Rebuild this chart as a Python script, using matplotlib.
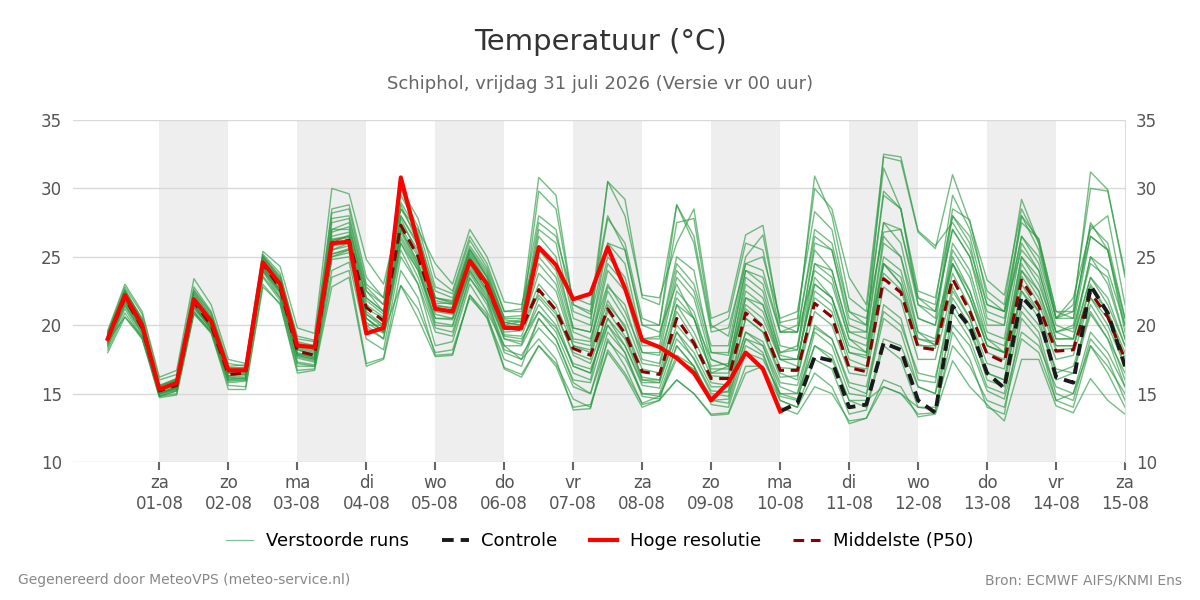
import numpy as np
import pandas as pd
import matplotlib
matplotlib.use("Agg")
import matplotlib.pyplot as plt
import matplotlib.dates as mdates
from matplotlib.lines import Line2D

# 6-hourly steps starting 31-07 06:00
times = pd.date_range("2026-07-31 06:00", periods=60, freq="6h")

p50 = [19.0, 22.0, 19.8, 15.2, 15.6, 21.7, 20.0, 16.4, 16.5, 24.5, 22.7, 18.1, 17.8,
       26.0, 26.2, 21.3, 20.3, 27.3, 25.0, 21.2, 21.0, 24.7, 22.8, 19.8, 19.7,
       22.6, 21.1, 18.3, 17.8, 21.2, 19.4, 16.6, 16.4, 20.5, 18.7, 16.1, 16.1,
       20.9, 19.9, 16.7, 16.7, 21.6, 20.6, 16.9, 16.6, 23.4, 22.4, 18.4, 18.2,
       23.4, 21.0, 17.9, 17.3, 23.3, 21.4, 18.1, 18.2, 22.4, 20.6, 17.5]

# hoge resolutie: first 40 steps
hres = [19.0, 22.2, 20.0, 15.3, 15.8, 21.9, 20.3, 16.7, 16.7, 24.6, 23.0, 18.5, 18.4,
        26.0, 26.1, 19.4, 19.8, 30.8, 26.0, 21.2, 21.0, 24.7, 23.0, 19.8, 19.8,
        25.7, 24.4, 21.9, 22.3, 25.7, 22.7, 18.9, 18.4, 17.6, 16.5, 14.5, 15.8,
        18.0, 16.8, 13.7]

# controle: from step 39 on
ctrl = [13.7, 14.3, 17.7, 17.4, 14.0, 14.2, 18.7, 18.2, 14.5, 13.6,
        21.4, 19.9, 16.5, 15.4, 22.1, 20.7, 16.2, 15.8, 22.9, 20.9, 17.0]

runs = [
    [19.3, 22.6, 20.4, 15.6, 16.0, 22.3, 20.6, 16.8, 16.9, 25.0, 23.4, 18.6, 18.2,
     27.5, 27.8, 22.5, 21.0, 29.0, 26.8, 22.0, 21.6, 25.6, 23.8, 20.4, 20.2,
     29.8, 28.5, 21.5, 20.8, 27.8, 26.0, 20.5, 20.0, 27.5, 27.8, 20.0, 19.2,
     25.0, 26.6, 20.2, 20.5, 30.0, 28.5, 23.5, 21.5, 32.3, 32.0, 26.8, 25.6,
     31.0, 27.5, 23.3, 22.2, 28.5, 26.0, 20.5, 21.5, 30.0, 29.8, 23.8],
    [18.5, 21.4, 19.3, 14.8, 15.2, 21.0, 19.6, 15.8, 15.9, 23.6, 22.0, 17.2, 17.0,
     24.0, 24.6, 19.0, 18.2, 25.0, 23.0, 19.5, 19.2, 23.4, 21.8, 18.2, 17.8,
     19.8, 18.5, 15.5, 15.0, 18.8, 17.6, 15.0, 14.8, 17.8, 17.0, 14.2, 14.0,
     18.0, 17.5, 15.0, 14.6, 18.5, 17.8, 14.5, 14.0, 19.0, 18.5, 15.5, 15.0,
     20.0, 18.5, 15.2, 14.6, 19.5, 18.5, 15.5, 15.0, 19.5, 18.0, 15.5],
    [18.8, 20.6, 19.2, 15.0, 15.4, 21.4, 19.8, 16.0, 16.2, 24.0, 22.4, 17.8, 17.5,
     25.0, 25.5, 20.5, 19.5, 22.9, 21.2, 18.0, 18.2, 22.0, 20.6, 17.5, 17.0,
     20.5, 19.0, 16.0, 15.8, 20.0, 18.0, 14.8, 14.6, 16.0, 15.0, 13.4, 13.5,
     16.5, 17.0, 14.0, 13.5, 15.5, 15.0, 13.0, 13.2, 16.0, 15.5, 13.3, 13.5,
     17.4, 15.5, 14.2, 13.0, 17.5, 17.5, 14.1, 13.6, 16.1, 14.5, 13.5],
    [19.5, 22.8, 20.8, 16.0, 16.4, 22.8, 21.0, 17.2, 17.0, 25.2, 23.8, 19.0, 18.8,
     28.5, 28.8, 23.5, 22.0, 30.0, 27.8, 23.5, 22.5, 26.5, 24.5, 21.0, 21.0,
     30.8, 29.5, 21.5, 21.0, 30.5, 29.2, 22.0, 21.5, 28.8, 26.0, 19.5, 19.8,
     24.5, 25.0, 20.5, 21.0, 28.3, 27.0, 21.0, 20.5, 26.8, 27.0, 22.0, 21.0,
     27.0, 25.0, 21.0, 20.5, 26.5, 24.5, 20.0, 19.5, 25.0, 24.0, 20.0],
    [19.1, 22.1, 19.9, 15.1, 15.5, 21.8, 20.1, 16.5, 16.4, 24.6, 22.9, 18.2, 17.9,
     26.5, 26.8, 21.5, 20.6, 27.8, 25.2, 21.4, 21.3, 25.0, 23.0, 20.0, 19.8,
     23.0, 21.5, 18.5, 18.0, 21.8, 19.8, 16.8, 16.5, 21.0, 19.0, 16.3, 16.2,
     21.2, 20.0, 16.9, 16.8, 22.0, 21.0, 17.0, 16.8, 23.8, 22.6, 18.6, 18.3,
     23.8, 21.3, 18.0, 17.5, 23.6, 21.6, 18.2, 18.3, 22.8, 20.9, 17.6],
    [18.7, 21.6, 19.5, 14.9, 15.3, 21.2, 19.8, 16.1, 16.1, 24.0, 22.2, 17.6, 17.3,
     25.2, 25.6, 20.2, 19.4, 26.0, 24.0, 20.5, 20.4, 24.0, 22.2, 19.2, 19.0,
     21.0, 19.8, 17.2, 16.8, 20.0, 18.5, 15.6, 15.4, 19.0, 17.6, 15.2, 15.1,
     19.5, 18.8, 15.8, 15.6, 19.8, 19.0, 15.8, 15.5, 21.0, 20.0, 16.5, 16.2,
     21.5, 19.5, 16.5, 16.0, 21.5, 20.0, 16.8, 16.5, 20.8, 19.0, 16.5],
    [19.4, 22.5, 20.5, 15.5, 16.0, 22.5, 20.8, 16.9, 16.8, 25.0, 23.5, 18.8, 18.5,
     27.8, 28.0, 22.8, 21.5, 28.5, 26.5, 22.5, 22.0, 25.8, 24.0, 20.5, 20.5,
     26.5, 25.0, 19.8, 19.5, 26.0, 24.5, 19.0, 19.2, 25.0, 24.0, 18.0, 18.0,
     24.0, 23.0, 18.5, 18.2, 26.0, 25.5, 20.0, 19.5, 27.5, 26.0, 20.5, 20.0,
     28.0, 26.0, 20.5, 20.0, 28.0, 26.3, 21.0, 20.5, 27.5, 25.5, 20.5],
    [18.2, 20.9, 19.0, 14.7, 14.9, 20.8, 19.5, 15.3, 15.3, 22.8, 21.6, 16.7, 16.8,
     23.5, 24.0, 17.2, 17.6, 24.0, 22.0, 17.8, 17.9, 22.2, 20.8, 16.9, 16.4,
     18.5, 17.2, 14.6, 14.0, 18.2, 16.5, 14.3, 14.8, 17.5, 16.8, 14.8, 15.2,
     20.5, 19.5, 16.5, 16.0, 22.5, 21.5, 17.5, 17.0, 24.5, 23.0, 18.5, 18.5,
     24.5, 22.0, 18.5, 18.0, 24.0, 22.0, 18.5, 18.5, 22.0, 20.5, 17.0],
    [19.0, 21.8, 19.7, 15.3, 15.8, 21.5, 19.9, 16.6, 16.7, 24.2, 22.6, 18.0, 17.6,
     26.2, 26.5, 21.0, 20.0, 27.0, 24.6, 21.0, 20.8, 24.5, 22.5, 19.5, 19.6,
     24.5, 23.0, 18.8, 18.5, 24.0, 22.5, 18.0, 18.0, 23.5, 22.0, 17.5, 17.0,
     23.5, 22.5, 18.0, 18.5, 25.5, 24.0, 19.5, 19.5, 32.5, 32.3, 26.9, 25.8,
     27.5, 25.5, 21.5, 21.0, 25.5, 24.0, 19.5, 19.8, 24.5, 23.5, 19.0],
    [19.2, 22.3, 20.2, 15.4, 15.7, 22.0, 20.2, 16.6, 16.6, 24.8, 23.0, 18.3, 18.0,
     26.8, 27.2, 21.8, 20.8, 28.0, 25.8, 21.8, 21.5, 25.3, 23.5, 20.2, 20.0,
     27.0, 26.0, 20.5, 20.0, 30.5, 28.0, 22.2, 22.0, 26.0, 28.5, 20.5, 21.0,
     26.6, 27.3, 20.0, 19.5, 24.0, 23.0, 19.0, 18.5, 24.5, 23.5, 19.0, 18.8,
     25.0, 22.5, 19.0, 18.5, 25.0, 23.0, 19.5, 19.0, 23.5, 21.5, 18.5],
    [18.9, 22.0, 19.6, 15.0, 15.5, 21.6, 19.9, 16.3, 16.4, 24.3, 22.5, 17.9, 17.6,
     25.8, 26.0, 20.8, 20.0, 27.0, 24.5, 20.8, 20.5, 24.2, 22.4, 19.0, 18.8,
     21.5, 20.0, 17.0, 16.5, 20.5, 18.5, 15.8, 15.8, 19.5, 17.5, 15.0, 14.8,
     19.0, 18.0, 14.5, 14.0, 17.5, 16.8, 13.5, 13.8, 18.5, 17.5, 14.0, 13.8,
     21.0, 19.0, 15.5, 15.0, 21.0, 19.5, 15.0, 14.5, 19.0, 17.5, 14.5],
    [19.6, 23.0, 21.0, 16.2, 16.7, 23.4, 21.5, 17.5, 17.2, 25.4, 24.3, 19.8, 19.4,
     30.0, 29.6, 24.8, 23.0, 28.5, 27.0, 24.5, 23.0, 27.0, 25.0, 21.7, 21.5,
     25.5, 24.0, 19.5, 19.0, 23.0, 21.0, 18.0, 17.8, 22.0, 20.5, 17.5, 17.0,
     22.0, 21.0, 17.5, 17.5, 23.0, 22.0, 18.0, 17.8, 25.0, 24.0, 19.5, 19.0,
     26.0, 24.0, 19.5, 19.0, 26.0, 24.0, 19.5, 20.0, 26.5, 25.5, 19.5],
    [19.0, 22.4, 20.1, 15.2, 15.6, 21.9, 20.4, 16.6, 16.8, 24.7, 23.1, 18.6, 18.3,
     26.3, 26.5, 20.0, 20.0, 30.0, 26.5, 21.5, 21.2, 25.0, 23.2, 20.0, 20.3,
     27.5, 26.5, 22.0, 21.5, 28.0, 25.5, 20.0, 19.5, 23.0, 20.5, 16.5, 17.0,
     21.5, 20.5, 17.5, 17.5, 23.5, 22.0, 18.5, 18.0, 26.0, 25.0, 20.5, 20.0,
     24.5, 22.0, 18.5, 18.0, 24.5, 22.5, 19.0, 19.0, 23.5, 22.0, 18.5],
    [18.4, 21.2, 19.1, 14.8, 15.0, 20.9, 19.4, 15.6, 15.5, 23.0, 21.5, 16.5, 16.7,
     22.8, 23.5, 17.0, 17.5, 22.9, 20.5, 17.7, 17.8, 22.2, 20.5, 16.8, 16.2,
     18.5, 17.0, 14.0, 14.2, 18.0, 16.3, 14.0, 14.5, 16.0, 15.0, 13.5, 13.6,
     17.0, 17.0, 14.5, 14.0, 16.5, 15.5, 12.8, 13.2, 15.5, 15.0, 13.5, 13.6,
     19.5, 17.5, 14.0, 13.5, 20.5, 19.0, 14.5, 14.0, 18.5, 16.5, 14.0],
    [19.2, 22.2, 20.0, 15.4, 15.9, 22.0, 20.3, 16.7, 16.6, 24.7, 22.9, 18.4, 18.1,
     27.0, 27.5, 22.0, 21.0, 28.8, 26.0, 22.0, 21.8, 25.5, 23.5, 20.2, 20.4,
     25.0, 23.5, 19.0, 18.8, 24.5, 23.0, 18.5, 18.5, 24.0, 22.5, 18.0, 17.8,
     24.0, 23.5, 19.5, 20.0, 30.9, 28.0, 22.0, 21.0, 31.5, 28.5, 21.5, 20.5,
     28.5, 27.7, 22.0, 21.0, 27.5, 26.3, 21.0, 21.0, 31.2, 29.9, 23.5],
    [19.3, 22.3, 20.1, 15.4, 15.8, 22.2, 20.4, 16.7, 16.7, 24.9, 23.2, 18.5, 18.2,
     26.0, 26.6, 22.0, 21.0, 27.5, 25.5, 21.6, 21.6, 25.2, 23.2, 20.2, 20.0,
     22.2, 20.8, 18.0, 17.5, 22.5, 20.5, 17.2, 17.0, 21.5, 19.5, 16.8, 16.8,
     22.5, 21.5, 17.8, 17.5, 23.0, 22.0, 18.0, 17.6, 24.5, 23.0, 19.0, 18.6,
     24.5, 22.5, 18.5, 18.0, 24.0, 22.5, 18.5, 18.5, 23.0, 21.0, 18.0],
    [18.6, 21.5, 19.4, 14.8, 15.2, 21.3, 19.7, 15.9, 16.0, 23.9, 22.0, 17.3, 17.1,
     24.8, 25.0, 19.8, 19.0, 26.0, 23.5, 19.8, 19.5, 23.5, 21.5, 18.0, 17.5,
     20.5, 19.0, 15.8, 15.0, 19.5, 18.0, 15.0, 15.0, 18.5, 17.0, 14.5, 14.6,
     19.0, 18.5, 15.5, 15.0, 20.0, 19.0, 15.5, 15.0, 20.5, 19.5, 15.5, 15.0,
     22.0, 20.0, 16.0, 15.5, 22.5, 20.5, 16.0, 16.5, 21.5, 19.5, 16.0],
    [19.1, 22.6, 20.3, 15.5, 16.1, 22.6, 20.9, 17.0, 17.1, 25.1, 23.6, 19.2, 18.9,
     28.2, 28.5, 23.0, 22.0, 29.5, 27.2, 22.8, 22.3, 26.2, 24.2, 21.0, 21.2,
     28.0, 27.0, 21.0, 20.5, 26.0, 25.5, 20.0, 20.0, 28.8, 26.5, 19.8, 20.5,
     26.0, 25.5, 19.5, 19.5, 26.5, 25.5, 20.5, 20.0, 29.8, 28.5, 22.0, 21.5,
     29.5, 27.0, 22.5, 21.5, 29.2, 26.0, 20.5, 22.0, 27.0, 28.0, 21.5],
    [18.8, 21.8, 19.7, 15.0, 15.5, 21.5, 19.8, 16.2, 16.3, 24.2, 22.5, 17.8, 17.5,
     25.5, 25.8, 20.8, 19.8, 26.5, 24.2, 20.5, 20.5, 24.4, 22.6, 19.3, 19.2,
     22.5, 21.0, 17.8, 17.2, 21.0, 19.2, 16.2, 16.0, 20.0, 18.5, 15.8, 15.6,
     20.5, 19.5, 16.2, 16.3, 21.0, 20.0, 16.5, 16.3, 22.8, 21.8, 17.5, 17.5,
     22.8, 20.5, 17.2, 16.8, 22.5, 21.0, 17.5, 17.8, 22.0, 20.0, 17.0],
    [18.0, 20.6, 19.0, 15.0, 15.3, 21.0, 19.5, 16.0, 16.0, 23.5, 21.8, 17.0, 17.0,
     25.0, 25.3, 20.0, 19.0, 25.5, 23.0, 18.5, 18.8, 23.0, 21.0, 18.5, 18.5,
     21.0, 19.5, 16.5, 16.0, 21.5, 20.0, 16.0, 15.8, 21.5, 20.5, 16.5, 16.5,
     22.0, 21.5, 17.5, 17.0, 24.5, 23.5, 19.0, 18.0, 26.5, 25.0, 19.5, 18.5,
     25.5, 23.5, 19.0, 18.0, 25.0, 23.5, 19.0, 19.0, 25.0, 23.0, 19.0],
    [18.9, 21.9, 19.8, 15.1, 15.4, 21.6, 20.0, 16.3, 16.5, 24.4, 22.6, 17.9, 17.7,
     25.5, 26.0, 20.5, 19.6, 26.8, 24.3, 20.2, 20.0, 23.8, 21.8, 18.5, 17.5,
     19.0, 17.5, 13.8, 13.9, 19.0, 17.0, 14.2, 14.5, 18.5, 17.0, 14.5, 14.3,
     18.5, 17.8, 14.8, 14.5, 19.5, 18.5, 15.0, 14.8, 21.5, 20.5, 16.0, 15.8,
     22.5, 20.5, 16.5, 16.0, 23.0, 21.0, 16.5, 17.0, 21.0, 19.0, 15.5],
    [19.2, 22.0, 19.9, 15.3, 15.7, 21.7, 20.2, 16.5, 16.6, 24.5, 22.8, 18.2, 17.8,
     26.2, 26.4, 21.2, 20.5, 27.2, 25.0, 21.3, 21.0, 24.8, 22.9, 19.9, 19.9,
     23.8, 22.5, 18.5, 18.2, 22.8, 21.5, 17.5, 17.2, 22.5, 21.0, 17.0, 17.2,
     23.0, 22.0, 18.0, 18.2, 24.5, 24.0, 19.5, 19.0, 27.5, 27.0, 21.5, 21.0,
     27.0, 25.0, 20.0, 20.0, 26.5, 25.0, 20.5, 20.5, 27.3, 26.0, 20.5],
    [18.7, 21.7, 19.6, 15.0, 15.4, 21.4, 19.7, 16.2, 16.1, 24.1, 22.4, 17.7, 17.4,
     25.2, 25.5, 20.5, 19.5, 26.3, 24.0, 20.0, 19.9, 24.0, 22.0, 19.0, 18.6,
     22.0, 20.5, 17.0, 16.5, 20.5, 19.0, 16.0, 16.0, 19.5, 18.0, 15.5, 15.5,
     19.5, 18.5, 15.0, 15.0, 18.5, 17.5, 14.5, 14.5, 15.5, 15.0, 14.0, 14.0,
     18.5, 17.0, 14.5, 14.0, 19.0, 18.0, 14.5, 15.0, 18.5, 17.0, 15.0],
    [19.4, 22.4, 20.3, 15.6, 16.1, 22.4, 20.6, 16.9, 16.9, 25.0, 23.3, 18.7, 18.4,
     27.0, 27.0, 22.5, 21.5, 28.0, 26.0, 22.0, 21.7, 25.5, 23.6, 20.6, 20.7,
     25.8, 24.5, 19.8, 19.5, 25.0, 23.5, 19.0, 19.0, 24.5, 23.0, 18.5, 18.5,
     24.5, 24.0, 19.5, 19.5, 27.0, 26.0, 21.0, 20.0, 29.5, 28.5, 22.5, 22.0,
     28.0, 26.5, 21.5, 21.0, 28.0, 25.5, 20.5, 21.0, 26.5, 25.5, 20.0],
]

day_names = ["ma", "di", "wo", "do", "vr", "za", "zo"]

fig = plt.figure(figsize=(12, 6), dpi=100)
ax = fig.add_axes([0.061, 0.23, 0.8765, 0.57])

# alternating day shading
days = pd.date_range("2026-08-01", "2026-08-15", freq="D")
for i, d in enumerate(days[:-1]):
    if i % 2 == 0:
        ax.axvspan(d, d + pd.Timedelta(days=1), color="#eeeeee", lw=0, zorder=0)

green = "#2b9a42"
for r in runs:
    ax.plot(times, r, color=green, lw=1.0, alpha=0.65, zorder=2)
ax.plot(times, p50, color="#8b0000", lw=2.2, ls=(0, (3.5, 2.2)), zorder=4)
ax.plot(times[39:], ctrl, color="#1a1a1a", lw=2.8, ls=(0, (3.0, 1.8)), zorder=5)
ax.plot(times[:40], hres, color="#ff0000", lw=3, zorder=6)

ax.set_ylim(10, 35)
ax.set_xlim(pd.Timestamp("2026-07-30 18:00"), pd.Timestamp("2026-08-15 00:00"))
ax.set_yticks(range(10, 36, 5))
ax.grid(axis="y", color="#d9d9d9", lw=1, zorder=1)
ax.set_axisbelow(True)

ax.set_xticks(days)
ax.set_xticklabels([f"{day_names[d.weekday()]}\n{d.strftime('%d-%m')}" for d in days])
ax.tick_params(axis="x", length=6, width=1.5, color="#666666", labelsize=12,
               labelcolor="#555555", pad=3)
ax.tick_params(axis="y", length=0, labelsize=12, labelcolor="#555555",
               labelright=True, right=False, pad=8)
for s in ["top", "left", "bottom"]:
    ax.spines[s].set_visible(False)
ax.spines["right"].set_color("#dddddd")

fig.text(0.5, 0.93, "Temperatuur (°C)", ha="center", va="center", fontsize=21, color="#333333")
fig.text(0.5, 0.86, "Schiphol, vrijdag 31 juli 2026 (Versie vr 00 uur)", ha="center",
         va="center", fontsize=13, color="#666666")

handles = [
    Line2D([], [], color=green, lw=0.9, alpha=0.6),
    Line2D([], [], color="#1a1a1a", lw=2.8, ls=(0, (3.0, 1.8))),
    Line2D([], [], color="#ff0000", lw=3),
    Line2D([], [], color="#8b0000", lw=2.2, ls=(0, (3.5, 2.2))),
]
labels = ["Verstoorde runs", "Controle", "Hoge resolutie", "Middelste (P50)"]
fig.legend(handles, labels, loc="center", bbox_to_anchor=(0.5, 0.098), ncol=4,
           frameon=False, fontsize=13, handlelength=1.5, handletextpad=0.7,
           columnspacing=1.8)

fig.text(0.015, 0.033, "Gegenereerd door MeteoVPS (meteo-service.nl)", fontsize=10,
         color="#888888", va="center")
fig.text(0.985, 0.033, "Bron: ECMWF AIFS/KNMI Ens", fontsize=10, color="#888888",
         ha="right", va="center")

fig.savefig("out.png", dpi=100)
